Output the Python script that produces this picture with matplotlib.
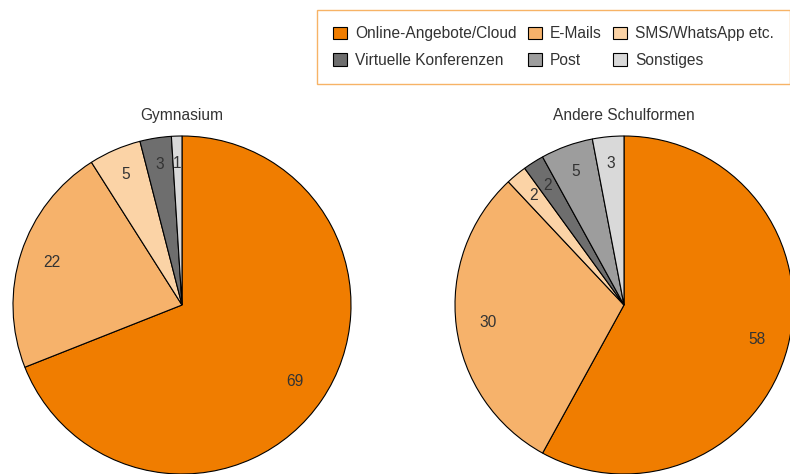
import matplotlib.pyplot as plt
import numpy as np
from matplotlib.patches import Patch

plt.rcParams['font.family'] = ['Liberation Sans', 'DejaVu Sans']

categories = ['Online-Angebote/Cloud', 'E-Mails', 'SMS/WhatsApp etc.',
              'Virtuelle Konferenzen', 'Post', 'Sonstiges']
colors = ['#f07d00', '#f6b26b', '#fbd3a6', '#6e6e6e', '#9d9d9d', '#d9d9d9']

gymnasium = [69, 22, 5, 3, 0, 1]
andere = [58, 30, 2, 2, 5, 3]
titles = ['Gymnasium', 'Andere Schulformen']

text_col = '#333333'

fig = plt.figure(figsize=(7.9, 4.74), dpi=100)

r_w = 338 / 790
r_h = 338 / 474
axes = [fig.add_axes([(182 - 169) / 790, 0.0, r_w, r_h]),
        fig.add_axes([(624 - 169) / 790, 0.0, r_w, r_h])]

for ax, vals, title in zip(axes, [gymnasium, andere], titles):
    v = np.array(vals, dtype=float)
    keep = v > 0
    wedges, _ = ax.pie(v[keep], colors=[c for c, k in zip(colors, keep) if k],
                       startangle=90, counterclock=False, radius=1,
                       wedgeprops=dict(edgecolor='black', linewidth=0.8))
    for w, val in zip(wedges, v[keep]):
        ang = np.deg2rad((w.theta1 + w.theta2) / 2)
        dist = 0.81 if val > 10 else 0.84
        ax.text(dist * np.cos(ang), dist * np.sin(ang), f'{int(val)}',
                ha='center', va='center', fontsize=11.2, color=text_col)
    ax.set_xlim(-1, 1)
    ax.set_ylim(-1, 1)
    ax.set_aspect('equal')
    ax.axis('off')
    ax.text(0, 1.12, title, ha='center', va='center', fontsize=11.2, color=text_col)

# legend is filled column by column, so reorder to get the row layout
order = [0, 3, 1, 4, 2, 5]
handles = [Patch(facecolor=colors[i], edgecolor='black', linewidth=0.8) for i in order]
labels = [categories[i] for i in order]
leg = fig.legend(handles, labels, ncol=3, loc='upper left',
                 bbox_to_anchor=(317 / 790, 1 - 10 / 474), frameon=True,
                 fancybox=False, fontsize=11.2, handlelength=0.9, handleheight=0.9,
                 handletextpad=0.5, columnspacing=0.75, labelspacing=0.75,
                 borderpad=1.05, borderaxespad=0)
leg.get_frame().set_edgecolor('#f5a040')
leg.get_frame().set_linewidth(1.0)
for t in leg.get_texts():
    t.set_color(text_col)

fig.savefig('out.png', dpi=100)
